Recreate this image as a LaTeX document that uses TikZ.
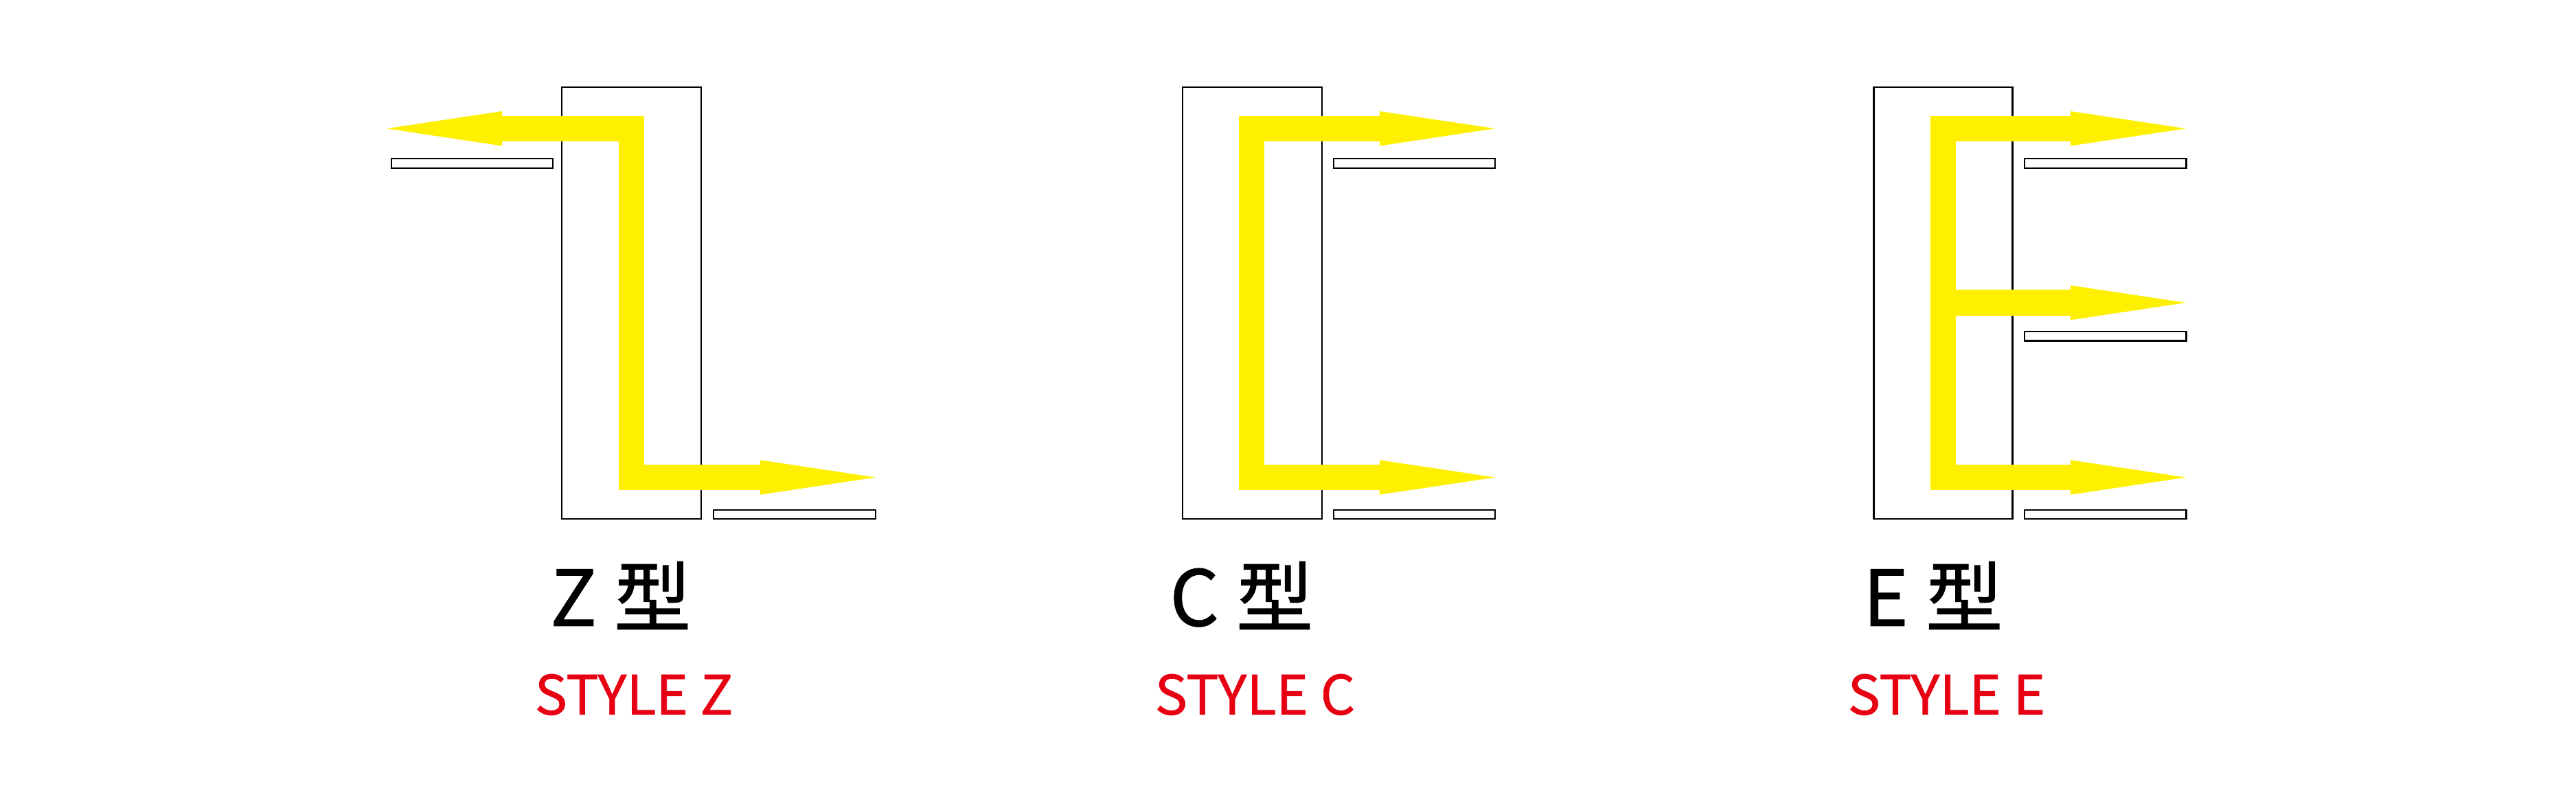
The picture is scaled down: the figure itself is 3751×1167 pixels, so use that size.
\documentclass[tikz,border=0pt]{standalone}
\usepackage{fontspec}
\setmainfont{Noto Sans CJK SC}[FakeBold=1]
\usetikzlibrary{arrows.meta}
\definecolor{flowyellow}{RGB}{255,240,0}
\definecolor{labelred}{RGB}{230,0,18}
\tikzset{
  cabinet/.style={draw=black, line width=0.7pt, fill=white},
  shelf/.style={draw=black, line width=0.7pt, fill=white},
  flow/.style={draw=flowyellow, line width=0.37cm, line join=miter, line cap=butt},
  flowhead/.tip={Triangle[length=1.68cm,width=0.505cm,line width=0pt]},
  flowtip/.style={-flowhead},
  flowtips/.style={flowhead-flowhead},
  typelabel/.style={inner sep=0pt, anchor=base east, font=\fontsize{31.9}{38}\selectfont, text=black},
  stylelabel/.style={inner sep=0pt, anchor=base west, font=\fontsize{22.5}{27}\selectfont, text=labelred}
}
\begin{document}
\begin{tikzpicture}[x=0.01cm, y=-0.01cm]
\useasboundingbox (0,0) rectangle (3751,1167);
\fill[white] (0,0) rectangle (3751,1167);

% ---------- Z ----------
\draw[cabinet] (818,127) rectangle (1021,756);
\draw[shelf] (570,231) rectangle (805,245);
\draw[shelf] (1039,743) rectangle (1275,756);
\coordinate (zL) at (563,187.3);
\coordinate (zA) at (919.5,187.3);
\coordinate (zB) at (919.5,695.5);
\coordinate (zR) at (1275,695.5);
\draw[flow, flowtips] (zL) -- (zA) -- (zB) -- (zR);
\node[typelabel] (zt) at (1007,911.7) {Z 型};
\node[stylelabel] (zs) at (778,1041) {STYLE Z};

% ---------- C ----------
\draw[cabinet] (1722,127) rectangle (1925,756);
\draw[shelf] (1942,231) rectangle (2177,245);
\draw[shelf] (1942,743) rectangle (2177,756);
\coordinate (cT) at (2177,187.3);
\coordinate (cA) at (1822.8,187.3);
\coordinate (cB) at (1822.8,695.5);
\coordinate (cR) at (2177,695.5);
\draw[flow, flowtips] (cT) -- (cA) -- (cB) -- (cR);
\node[typelabel] (ct) at (1913,911.7) {C 型};
\node[stylelabel] (cs) at (1681,1041) {STYLE C};

% ---------- E ----------
\draw[cabinet] (2728.5,127) rectangle (2930.5,756);
\draw[shelf] (2948,231) rectangle (3183.5,245);
\draw[shelf] (2948,483) rectangle (3183.5,496.5);
\draw[shelf] (2948,743) rectangle (3183.5,756);
\coordinate (eT) at (3183,187.3);
\coordinate (eA) at (2829.5,187.3);
\coordinate (eB) at (2829.5,695.5);
\coordinate (eR) at (3183,695.5);
\coordinate (eM0) at (2829.5,441);
\coordinate (eM) at (3183,441);
\draw[flow, flowtips] (eT) -- (eA) -- (eB) -- (eR);
\draw[flow, flowtip] (eM0) -- (eM);
\node[typelabel] (et) at (2917,911.7) {E 型};
\node[stylelabel] (es) at (2690,1041) {STYLE E};
\end{tikzpicture}
\end{document}
